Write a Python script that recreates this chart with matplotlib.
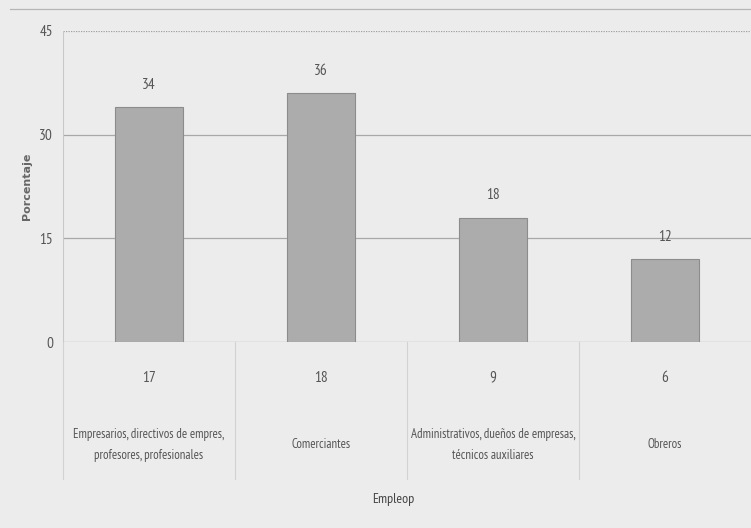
import matplotlib.pyplot as plt
from matplotlib.lines import Line2D
import matplotlib.transforms as mtransforms

# Data
categories = ["Empresarios, directivos de empres,\nprofesores, profesionales",
              "Comerciantes",
              "Administrativos, dueños de empresas,\ntécnicos auxiliares",
              "Obreros"]
porcentaje = [34, 36, 18, 12]
frecuencia = [17, 18, 9, 6]
yticks = [0, 15, 30, 45]

plt.rcParams['font.family'] = ['PT Sans Narrow', 'DejaVu Sans']
bg = '#ececec'
txt = '#555555'

fig = plt.figure(figsize=(7.51, 5.28), dpi=100, facecolor=bg)
ax = fig.add_axes([63 / 751, 186 / 528, 688 / 751, 311 / 528], facecolor=bg)

x = range(len(categories))
ax.bar(x, porcentaje, width=0.40, color='#acacac', edgecolor='#8c8c8c', linewidth=0.8, zorder=3)
for xi, v in zip(x, porcentaje):
    ax.text(xi, v + 2.2, str(v), ha='center', va='bottom', fontsize=11, color=txt)

ax.set_xlim(-0.5, 3.5)
ax.set_ylim(0, 45)
ax.set_yticks(yticks)
ax.set_yticklabels([str(t) for t in yticks], fontsize=11, color=txt)
ax.tick_params(axis='y', length=0, pad=7)
ax.set_xticks([])

for t in [15, 30]:
    ax.axhline(t, color='#a8a8a8', lw=0.9, zorder=1)
ax.axhline(45, color='#a0a0a0', lw=0.9, ls=(0, (1, 1)), zorder=1)
ax.axhline(0, color='#a0a0a0', lw=0.9, zorder=1)

for s in ax.spines.values():
    s.set_visible(False)
ax.axvline(-0.5, color='#c8c8c8', lw=0.8)

# category table below the axis
trans = mtransforms.blended_transform_factory(ax.transData, ax.transAxes)
for b in [-0.5, 0.5, 1.5, 2.5]:
    ax.add_line(Line2D([b, b], [0, -0.44], transform=trans, color='#d2d2d2', lw=0.8, clip_on=False))
for xi, f, c in zip(x, frecuencia, categories):
    ax.text(xi, -0.115, str(f), transform=trans, ha='center', va='center', fontsize=11, color=txt)
    ax.text(xi, -0.33, c, transform=trans, ha='center', va='center', fontsize=9.2,
            color=txt, linespacing=1.8)

ax.text(0.48, -0.505, "Empleop", transform=ax.transAxes, ha='center', va='center', fontsize=10, color='#444444')
ax.set_ylabel("Porcentaje", fontsize=8, fontweight='bold', color='#666666',
              family=['DejaVu Sans'])
ax.yaxis.set_label_coords(-0.045, 0.5)

fig.add_artist(Line2D([10 / 751, 1], [1 - 9 / 528, 1 - 9 / 528], color='#b5b5b5', lw=0.9))

fig.savefig("out.png", dpi=100, facecolor=bg)
